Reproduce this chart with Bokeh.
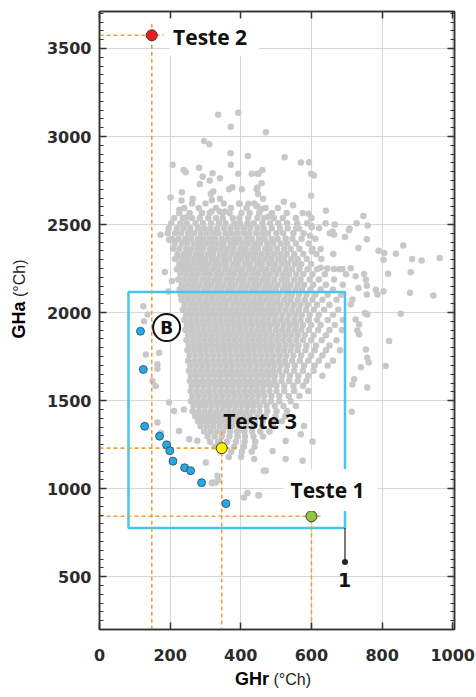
from bokeh.plotting import figure
from bokeh.models import Range1d, LinearAxis, SingleIntervalTicker, Label, Div
from bokeh.layouts import column, row
from bokeh.embed import file_html
from bokeh.resources import INLINE

# ---------------- data ----------------
# dense core of the grey cloud, read row by row: (GHa, [GHr ...])
core_rows = [
    (2620, [262, 300, 352, 395, 438]),
    (2594, [240, 281, 330, 372, 416, 470, 505]),
    (2566, [226, 255, 290, 312, 348, 368, 402, 425, 452, 488, 530, 575]),
    (2537, [212, 236, 262, 284, 308, 330, 349, 377, 396, 421, 447, 466, 494, 519, 556, 600]),
    (2508, [203, 229, 247, 272, 293, 316, 338, 357, 381, 398, 419, 437, 461, 483, 506, 531, 560, 588, 640]),
    (2479, [196, 219, 238, 257, 279, 297, 314, 333, 352, 371, 389, 409, 427, 447, 465, 488, 511, 533, 557, 622]),
    (2451, [193, 214, 231, 251, 267, 286, 303, 321, 337, 357, 373, 390, 409, 424, 443, 461, 477, 501, 520, 549, 578, 652]),
    (2420, [205, 224, 243, 259, 278, 293, 311, 327, 346, 363, 381, 397, 416, 431, 451, 467, 487, 504, 527, 546, 572, 611]),
    (2392, [213, 233, 249, 268, 284, 302, 319, 336, 351, 371, 386, 404, 421, 439, 455, 475, 492, 513, 531, 556, 592]),
    (2363, [208, 226, 245, 261, 279, 294, 313, 329, 347, 363, 380, 399, 414, 433, 449, 469, 484, 503, 523, 541, 566, 603]),
    (2333, [221, 239, 255, 273, 289, 307, 322, 341, 357, 374, 391, 409, 425, 442, 459, 476, 494, 512, 530, 551, 577, 614, 662]),
    (2304, [214, 233, 249, 266, 283, 299, 317, 333, 351, 367, 386, 401, 419, 436, 453, 470, 487, 506, 523, 543, 561, 587, 628]),
    (2276, [226, 243, 259, 276, 293, 309, 327, 344, 359, 378, 393, 412, 427, 446, 461, 480, 497, 516, 533, 553, 571, 599]),
    (2246, [219, 236, 253, 270, 287, 303, 321, 337, 355, 371, 389, 405, 423, 439, 457, 473, 492, 509, 528, 545, 566, 589, 616, 679]),
    (2217, [229, 246, 263, 279, 297, 313, 331, 347, 365, 381, 399, 415, 433, 449, 467, 483, 501, 520, 537, 557, 577, 603, 638, 698]),
    (2188, [223, 240, 257, 273, 291, 307, 325, 341, 359, 375, 393, 409, 427, 443, 461, 477, 495, 515, 531, 551, 569, 595, 621, 664]),
    (2158, [233, 250, 267, 283, 301, 317, 335, 351, 369, 385, 403, 419, 437, 453, 471, 487, 505, 524, 541, 561, 579, 605, 641, 689]),
    (2131, [227, 244, 261, 277, 295, 311, 329, 345, 363, 379, 397, 413, 431, 447, 465, 481, 499, 519, 535, 555, 573, 597, 626, 661]),
    (2101, [237, 254, 271, 287, 305, 321, 339, 355, 373, 389, 407, 423, 441, 457, 475, 491, 509, 529, 545, 565, 586, 611, 646, 684]),
    (2073, [232, 249, 266, 283, 300, 317, 334, 351, 368, 385, 402, 419, 436, 453, 470, 487, 504, 523, 541, 561, 581, 603, 631, 671]),
    (2044, [241, 259, 275, 292, 309, 326, 343, 359, 377, 394, 411, 428, 445, 461, 479, 496, 513, 532, 551, 569, 589, 616, 651]),
    (2016, [236, 253, 270, 287, 304, 321, 338, 355, 372, 389, 406, 423, 440, 457, 474, 491, 509, 527, 546, 565, 585, 607, 636, 676]),
    (1987, [245, 262, 279, 296, 313, 330, 347, 364, 381, 398, 415, 432, 449, 466, 483, 500, 518, 537, 555, 573, 595, 621, 661]),
    (1958, [240, 257, 274, 291, 308, 325, 342, 359, 376, 393, 410, 427, 444, 461, 478, 496, 514, 532, 551, 569, 591, 616, 646, 689]),
    (1929, [247, 264, 281, 298, 315, 332, 349, 366, 383, 400, 417, 434, 451, 468, 485, 503, 521, 539, 557, 576, 599, 626, 666]),
    (1901, [243, 260, 277, 294, 311, 328, 345, 362, 379, 396, 413, 430, 447, 464, 481, 499, 517, 535, 553, 571, 593, 619, 651, 686]),
    (1871, [251, 268, 285, 302, 319, 336, 353, 370, 387, 404, 421, 438, 455, 472, 489, 507, 525, 543, 561, 581, 606, 641]),
    (1843, [246, 263, 280, 297, 314, 331, 348, 365, 382, 399, 416, 433, 450, 467, 484, 502, 520, 538, 557, 576, 599, 629, 671]),
    (1813, [253, 270, 287, 304, 321, 338, 355, 372, 389, 406, 423, 440, 457, 474, 491, 509, 527, 545, 563, 586, 613, 651]),
    (1786, [249, 266, 283, 300, 317, 334, 351, 368, 385, 402, 419, 436, 453, 470, 487, 505, 523, 541, 561, 583, 609, 641, 681]),
    (1756, [255, 272, 289, 306, 323, 340, 357, 374, 391, 408, 425, 442, 459, 476, 493, 511, 529, 549, 571, 599, 631]),
    (1727, [251, 268, 285, 302, 319, 336, 353, 370, 387, 404, 421, 438, 455, 472, 489, 507, 525, 545, 567, 591, 621, 661]),
    (1699, [257, 274, 291, 308, 325, 342, 359, 376, 393, 410, 427, 444, 461, 478, 495, 513, 531, 553, 579, 609, 646]),
    (1670, [253, 270, 287, 304, 321, 338, 355, 372, 389, 406, 423, 440, 457, 474, 491, 509, 529, 551, 576, 606]),
    (1641, [259, 276, 293, 310, 327, 344, 361, 378, 395, 412, 429, 446, 463, 480, 497, 517, 539, 563, 591, 631]),
    (1612, [256, 273, 290, 307, 324, 341, 358, 375, 392, 409, 426, 443, 460, 477, 495, 515, 537, 561, 586]),
    (1584, [261, 278, 295, 312, 329, 346, 363, 380, 397, 414, 431, 448, 465, 483, 501, 523, 549, 576]),
    (1555, [258, 275, 292, 309, 326, 343, 360, 377, 394, 411, 428, 445, 462, 481, 501, 523, 551, 591]),
    (1526, [263, 280, 297, 314, 331, 348, 365, 382, 399, 416, 433, 450, 467, 487, 509, 536, 566]),
    (1497, [259, 276, 293, 310, 327, 344, 361, 378, 395, 412, 429, 446, 465, 485, 509, 541]),
    (1469, [266, 283, 300, 317, 334, 351, 368, 385, 402, 419, 436, 453, 473, 496, 521, 556]),
    (1440, [263, 280, 297, 314, 331, 348, 365, 382, 399, 416, 434, 453, 475, 501, 531]),
    (1411, [271, 288, 305, 322, 339, 356, 373, 390, 408, 426, 446, 470, 498, 526]),
    (1383, [279, 296, 313, 330, 347, 364, 381, 399, 419, 440, 462, 488, 516]),
    (1354, [286, 304, 322, 340, 358, 376, 395, 415, 436, 460, 491]),
    (1325, [296, 314, 332, 350, 370, 390, 410, 432, 455, 481]),
    (1296, [306, 326, 346, 368, 390, 412, 436, 463]),
    (1267, [313, 336, 361, 386, 411, 441]),
    (1238, [326, 353, 381, 409, 439]),
    (1209, [341, 373, 403, 431]),
    (1180, [366, 401]),
]

# scattered grey points outside the core
outer_x = [336, 393, 372, 471, 296, 311, 371, 420, 524, 207, 238, 244, 282, 372, 570, 593,
           292, 320, 312, 341, 284, 393, 431, 450, 461, 447, 599, 607, 233, 367, 376, 322,
           315, 403, 459, 445, 449, 201, 232, 264, 318, 341, 447, 463, 599, 397, 421, 522,
           548, 444, 459, 226, 317, 340, 355, 447, 641, 592, 478, 747, 245, 728, 666, 600,
           565, 708, 601, 660, 706, 759, 596, 664, 695, 757, 626, 601, 733, 790, 806, 804,
           839, 860, 885, 912, 963, 626, 645, 664, 688, 711, 725, 749, 754, 817, 881, 733,
           757, 757, 782, 787, 804, 879, 945, 716, 711, 752, 758, 853, 725, 735, 730, 735,
           820, 754, 758, 810, 758, 714, 716, 721, 762, 740, 603, 575, 527, 471, 452, 318,
           336, 409, 419, 450, 164, 150, 159, 197, 211, 239, 164, 174, 173, 197, 211, 221,
           235, 230, 124, 136, 126, 131, 169, 164, 320, 185, 205, 195, 490, 438, 570, 579,
           527, 465, 225, 254, 277, 301, 334, 329]
outer_y = [3124, 3135, 3056, 3024, 2975, 2956, 2905, 2890, 2882, 2839, 2810, 2797, 2823, 2839, 2852, 2854,
           2771, 2792, 2750, 2763, 2730, 2788, 2788, 2788, 2810, 2788, 2788, 2778, 2684, 2701, 2712, 2688,
           2673, 2701, 2735, 2701, 2673, 2654, 2637, 2646, 2640, 2646, 2710, 2646, 2663, 2618, 2618, 2629,
           2610, 2606, 2588, 2584, 2574, 2574, 2574, 2603, 2578, 2561, 2544, 2548, 2540, 2508, 2500, 2493,
           2478, 2478, 2484, 2461, 2467, 2495, 2436, 2442, 2429, 2416, 2361, 2348, 2367, 2351, 2338, 2300,
           2334, 2381, 2304, 2296, 2310, 2255, 2250, 2248, 2248, 2252, 2206, 2219, 2187, 2221, 2229, 2140,
           2153, 2102, 2130, 2102, 2121, 2112, 2097, 2074, 2046, 1998, 1989, 1993, 1960, 1932, 1898, 1875,
           1838, 1790, 1743, 1696, 1574, 1437, 1592, 1621, 1717, 1689, 1268, 1158, 1271, 1101, 963, 1030,
           1048, 950, 975, 963, 1681, 1611, 1583, 1489, 1441, 1450, 1375, 1318, 2442, 2414, 2408, 2319,
           2272, 2102, 2036, 1989, 1951, 1762, 1772, 1706, 1035, 2230, 2180, 2120, 1214, 1168, 1309, 1356,
           1168, 1101, 1328, 1281, 1272, 1149, 1073, 1035]

# blue series (B)
blue_x = [116, 124, 128, 170, 190, 199, 208, 241, 258, 289, 358]
blue_y = [1894, 1677, 1354, 1298, 1249, 1215, 1156, 1119, 1102, 1034, 915]

# test points
test_names = ["Teste 1", "Teste 2", "Teste 3"]
test_x = [600, 148, 346]
test_y = [843, 3575, 1230]
test_colors = ["#8dc63f", "#ed1c24", "#fff200"]

# region box and marker "1"
box_left, box_right, box_bottom, box_top = 82, 695, 777, 2117
marker1_x, marker1_y = 695, 584

x_tick_interval = 200
y_tick_interval = 500

# ---------------- figure ----------------
p = figure(frame_width=355, frame_height=618,
           x_range=Range1d(0, 1005), y_range=Range1d(200, 3710),
           output_backend="svg", toolbar_location=None,
           min_border_left=59, min_border_right=22, min_border_top=11, min_border_bottom=40,
           x_axis_location=None, y_axis_location=None)
p.background_fill_color = "white"
p.border_fill_color = "white"
p.outline_line_color = "#333333"
p.outline_line_width = 1.5

AX = "#333333"
def style_axis(ax, ticker, minor_in, labels=True):
    ax.ticker = ticker
    ax.axis_line_color = AX
    ax.axis_line_width = 1.5
    ax.major_tick_line_color = AX
    ax.major_tick_line_width = 1.5
    ax.minor_tick_line_color = AX
    ax.minor_tick_line_width = 1
    ax.major_tick_in = 7
    ax.major_tick_out = 0
    ax.minor_tick_in = minor_in
    ax.minor_tick_out = 0
    if labels:
        ax.major_label_text_font = "DejaVu Sans"
        ax.major_label_text_font_style = "bold"
        ax.major_label_text_font_size = "16px"
        ax.major_label_text_color = "#2b2b2b"
    else:
        ax.major_label_text_color = None
        ax.major_label_standoff = 0

xt = SingleIntervalTicker(interval=x_tick_interval, num_minor_ticks=0)
yt = SingleIntervalTicker(interval=y_tick_interval, num_minor_ticks=10)

ax_b = LinearAxis()
style_axis(ax_b, xt, 0)
ax_b.major_label_standoff = 19
p.add_layout(ax_b, "below")
ax_l = LinearAxis()
style_axis(ax_l, yt, 4)
ax_l.major_label_standoff = 8
p.add_layout(ax_l, "left")
ax_t = LinearAxis()
style_axis(ax_t, SingleIntervalTicker(interval=x_tick_interval, num_minor_ticks=0), 0, labels=False)
p.add_layout(ax_t, "above")
ax_r = LinearAxis()
style_axis(ax_r, SingleIntervalTicker(interval=y_tick_interval, num_minor_ticks=10), 4, labels=False)
p.add_layout(ax_r, "right")

p.xgrid.ticker = xt
p.ygrid.ticker = yt
p.xgrid.grid_line_color = "#d6d6d6"
p.ygrid.grid_line_color = "#d6d6d6"

# grey cloud
gx, gy = [], []
for yv, xs in core_rows:
    gx.extend(xs)
    gy.extend([yv] * len(xs))
gx.extend(outer_x)
gy.extend(outer_y)
p.scatter(gx, gy, size=6.5, fill_color="#c8c8c8", line_color=None)

# region box
p.quad(left=[box_left], right=[box_right], bottom=[box_bottom], top=[box_top],
       fill_color=None, line_color="#45c6ee", line_width=2.5)

# dashed guide lines
dash = dict(line_color="#e9a23b", line_width=1.6, line_dash="4 3")
tx1, tx2, tx3 = test_x
ty1, ty2, ty3 = test_y
p.segment(x0=[tx2, tx3, tx1], y0=[3640, 1325, 905], x1=[tx2, tx3, tx1], y1=[200, 200, 200], **dash)
p.segment(x0=[0, 0, 0], y0=[ty2, ty3, ty1], x1=[182, 395, 634], y1=[ty2, ty3, ty1], **dash)

# marker 1
p.segment(x0=[marker1_x], y0=[box_bottom], x1=[marker1_x], y1=[marker1_y], line_color="#222222", line_width=1.2)
p.scatter([marker1_x], [marker1_y], size=6, fill_color="#222222", line_color=None)

# blue points
p.scatter(blue_x, blue_y, size=8, fill_color="#2ba6de", line_color="#1d4f6e", line_width=0.8)

# test points
p.scatter(test_x, test_y, size=11, fill_color=test_colors, line_color="#3a3a3a", line_width=1)

# "B" badge
p.scatter([190], [1915], size=27, fill_color="white", line_color="#111111", line_width=2)
p.add_layout(Label(x=190, y=1915, text="B", text_font="DejaVu Sans", text_font_style="bold",
                   text_font_size="17px", text_align="center", text_baseline="middle", text_color="#111111"))

lab = dict(text_font="Open Sans", text_font_style="bold", text_font_size="21px",
           text_color="#111111", text_baseline="middle")
p.add_layout(Label(x=197, y=3564, text=test_names[1], background_fill_color="white",
                   padding=(4, 12, 4, 5), **lab))
p.add_layout(Label(x=350, y=1385, text=test_names[2], **lab))
p.add_layout(Label(x=521, y=993, text=test_names[0], background_fill_color="white",
                   padding=(7, 13, 7, 7), **lab))
p.add_layout(Label(x=694, y=480, text="1", text_font="DejaVu Sans", text_font_style="bold",
                   text_font_size="19px", text_align="center", text_baseline="middle", text_color="#111111"))

# axis titles (bold quantity + regular unit), as HTML beside the figure
FONT = "font-family:'DejaVu Sans',sans-serif;"
y_title = Div(width=40, height=669, margin=0, text=(
    "<div style='position:relative;width:40px;height:669px;'>"
    "<div style='position:absolute;left:20px;top:299px;transform:translate(-50%,-50%) rotate(-90deg);"
    "white-space:nowrap;" + FONT + "color:#111;'>"
    "<span style='font-weight:bold;font-size:18px;'>GHa</span>"
    "<span style='font-size:16px;color:#222;'> (°Ch)</span></div></div>"))
x_title = Div(width=476, height=27, margin=0, text=(
    "<div style='position:relative;width:476px;height:27px;'>"
    "<div style='position:absolute;left:235px;top:11px;transform:translateY(-50%);"
    "white-space:nowrap;" + FONT + "color:#111;'>"
    "<span style='font-weight:bold;font-size:18px;'>GHr</span>"
    "<span style='font-size:16px;color:#222;'> (°Ch)</span></div></div>"))

layout = column(row(y_title, p, spacing=0), x_title, spacing=0)
open("out.html", "w").write(file_html(layout, INLINE))
